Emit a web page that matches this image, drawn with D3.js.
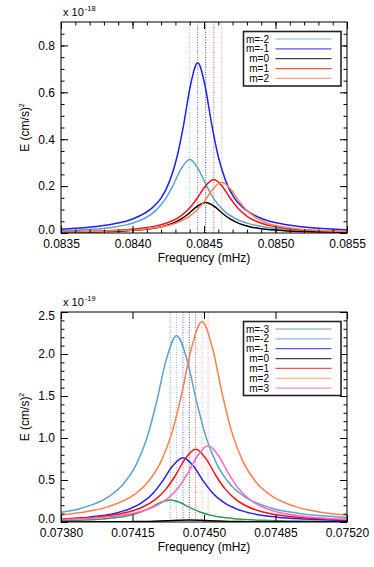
<!DOCTYPE html>
<html>
<head>
<meta charset="utf-8">
<script src="https://cdn.jsdelivr.net/npm/d3@7"></script>
<style>
  body { margin: 0; background: #fff; }
  svg { display: block; }
  text { font-family: "Liberation Sans", Arial, Helvetica, sans-serif; fill: #000; }
</style>
</head>
<body>
<svg id="chart" width="374" height="567"></svg>
<script>
// ---- data ----
const modeColor = {
  "m=-3": "#33994d",
  "m=-2": "#5ba3cf",
  "m=-1": "#1f1fff",
  "m=0": "#000000",
  "m=1": "#ff1010",
  "m=2": "#ff7f4f",
  "m=3": "#ff66c4",
};

// upper panel (x 1e-18)
const topModes = ["m=-2", "m=-1", "m=0", "m=1", "m=2"];
const topCenters = [0.0844, 0.084456, 0.084512, 0.084568, 0.084624];
const topXTicks = [0.0835, 0.084, 0.0845, 0.085, 0.0855];
const topYTicks = [0, 0.2, 0.4, 0.6, 0.8];

const topM2 = [[0.083144,0.0048],[0.083458,0.0085],[0.083693,0.0148],[0.08385,0.0237],[0.084007,0.0433],[0.084086,0.0628],[0.084164,0.0966],[0.084227,0.1421],[0.084282,0.201],[0.084337,0.2707],[0.0844,0.314],[0.084463,0.2707],[0.084518,0.201],[0.084573,0.1421],[0.084636,0.0966],[0.084714,0.0628],[0.084793,0.0433],[0.08495,0.0237],[0.085107,0.0148],[0.085342,0.0085],[0.085656,0.0048]];
const topM1 = [[0.083156,0.01],[0.083416,0.014],[0.083676,0.023],[0.083871,0.039],[0.084001,0.06],[0.084131,0.104],[0.084196,0.1452],[0.084261,0.2234],[0.084313,0.3285],[0.0843585,0.4646],[0.084404,0.6259],[0.084456,0.726],[0.084508,0.6259],[0.0845535,0.4646],[0.084599,0.3285],[0.084651,0.2234],[0.084716,0.1452],[0.084781,0.104],[0.084911,0.06],[0.085041,0.039],[0.085236,0.023],[0.085496,0.014],[0.085756,0.01]];
const top0 = [[0.083256,0.002],[0.08357,0.0035],[0.083805,0.0061],[0.083962,0.0098],[0.084119,0.0179],[0.084198,0.026],[0.084276,0.04],[0.084339,0.0588],[0.084394,0.0832],[0.084449,0.1121],[0.084512,0.13],[0.084575,0.1121],[0.08463,0.0832],[0.084685,0.0588],[0.084748,0.04],[0.084826,0.026],[0.084905,0.0179],[0.085062,0.0098],[0.085219,0.0061],[0.085454,0.0035],[0.085768,0.002]];
const topP1 = [[0.083312,0.0035],[0.083626,0.0062],[0.083861,0.0107],[0.084018,0.0172],[0.084175,0.0314],[0.084254,0.0456],[0.084332,0.0702],[0.084395,0.1032],[0.08445,0.1459],[0.084505,0.1966],[0.084568,0.228],[0.084631,0.1966],[0.084686,0.1459],[0.084741,0.1032],[0.084804,0.0702],[0.084882,0.0456],[0.084961,0.0314],[0.085118,0.0172],[0.085275,0.0107],[0.08551,0.0062],[0.085824,0.0035]];
const topP2 = [[0.083368,0.0033],[0.083682,0.0058],[0.083917,0.0102],[0.084074,0.0163],[0.084231,0.0298],[0.08431,0.0432],[0.084388,0.0665],[0.084451,0.0977],[0.084506,0.1382],[0.084561,0.1862],[0.084624,0.216],[0.084687,0.1862],[0.084742,0.1382],[0.084797,0.0977],[0.08486,0.0665],[0.084938,0.0432],[0.085017,0.0298],[0.085174,0.0163],[0.085331,0.0102],[0.085566,0.0058],[0.08588,0.0033]];

// lower panel (x 1e-19)
const botModes = ["m=-3", "m=-2", "m=-1", "m=0", "m=1", "m=2", "m=3"];
const botCenters = [0.074335, 0.074366, 0.074397, 0.074428, 0.074459, 0.07449, 0.07452];
const botXTicks = [0.0738, 0.07415, 0.0745, 0.07485, 0.0752];
const botYTicks = [0, 0.5, 1, 1.5, 2, 2.5];

const botM3 = [[0.073279,0.004],[0.073543,0.0071],[0.073741,0.0123],[0.073873,0.0198],[0.074005,0.0361],[0.074071,0.0524],[0.074137,0.0806],[0.07419,0.1186],[0.074236,0.1677],[0.074282,0.2259],[0.074335,0.262],[0.074388,0.2259],[0.074434,0.1677],[0.07448,0.1186],[0.074533,0.0806],[0.074599,0.0524],[0.074665,0.0361],[0.074797,0.0198],[0.074929,0.0123],[0.075127,0.0071],[0.075391,0.004]];
const botM2 = [[0.07331,0.0342],[0.073574,0.0599],[0.073772,0.1045],[0.073904,0.1675],[0.074036,0.3059],[0.074102,0.4436],[0.074168,0.6825],[0.074221,1.0036],[0.074267,1.4195],[0.074313,1.9121],[0.074366,2.218],[0.074419,1.9121],[0.074465,1.4195],[0.074511,1.0036],[0.074564,0.6825],[0.07463,0.4436],[0.074696,0.3059],[0.074828,0.1675],[0.07496,0.1045],[0.075158,0.0599],[0.075422,0.0342]];
const botM1 = [[0.073341,0.0118],[0.073605,0.0207],[0.073803,0.0361],[0.073935,0.0578],[0.074067,0.1056],[0.074133,0.1532],[0.074199,0.2357],[0.074252,0.3466],[0.074298,0.4902],[0.074344,0.6604],[0.074397,0.766],[0.07445,0.6604],[0.074496,0.4902],[0.074542,0.3466],[0.074595,0.2357],[0.074661,0.1532],[0.074727,0.1056],[0.074859,0.0578],[0.074991,0.0361],[0.075189,0.0207],[0.075453,0.0118]];
const bot0 = [[0.073372,0.0004],[0.073636,0.0006],[0.073834,0.0011],[0.073966,0.0018],[0.074098,0.0033],[0.074164,0.0048],[0.07423,0.0074],[0.074283,0.0109],[0.074329,0.0154],[0.074375,0.0207],[0.074428,0.024],[0.074481,0.0207],[0.074527,0.0154],[0.074573,0.0109],[0.074626,0.0074],[0.074692,0.0048],[0.074758,0.0033],[0.07489,0.0018],[0.075022,0.0011],[0.07522,0.0006],[0.075484,0.0004]];
const botP1 = [[0.073403,0.0133],[0.073667,0.0234],[0.073865,0.0407],[0.073997,0.0653],[0.074129,0.1193],[0.074195,0.173],[0.074261,0.2662],[0.074314,0.3914],[0.07436,0.5536],[0.074406,0.7457],[0.074459,0.865],[0.074512,0.7457],[0.074558,0.5536],[0.074604,0.3914],[0.074657,0.2662],[0.074723,0.173],[0.074789,0.1193],[0.074921,0.0653],[0.075053,0.0407],[0.075251,0.0234],[0.075515,0.0133]];
const botP2 = [[0.073434,0.0367],[0.073698,0.0644],[0.073896,0.1123],[0.074028,0.1801],[0.07416,0.3289],[0.074226,0.477],[0.074292,0.7339],[0.074345,1.0792],[0.074391,1.5264],[0.074437,2.0561],[0.07449,2.385],[0.074543,2.0561],[0.074589,1.5264],[0.074635,1.0792],[0.074688,0.7339],[0.074754,0.477],[0.07482,0.3289],[0.074952,0.1801],[0.075084,0.1123],[0.075282,0.0644],[0.075546,0.0367]];
const botP3 = [[0.073464,0.014],[0.073728,0.0245],[0.073926,0.0427],[0.074058,0.0685],[0.07419,0.1252],[0.074256,0.1816],[0.074322,0.2794],[0.074375,0.4109],[0.074421,0.5811],[0.074467,0.7828],[0.07452,0.908],[0.074573,0.7828],[0.074619,0.5811],[0.074665,0.4109],[0.074718,0.2794],[0.074784,0.1816],[0.07485,0.1252],[0.074982,0.0685],[0.075114,0.0427],[0.075312,0.0245],[0.075576,0.014]];

// ---- drawing ----
const svg = d3.select("#chart");
const left = 61, right = 347;

const drawPanel = ({ id, top, bottom, modes, centers, series, xTicks, xFmt, xMinor, yTicks, yMax, yMinor, power, legendH }) => {
  const x = d3.scaleLinear().domain([xTicks[0], xTicks[xTicks.length - 1]]).range([left, right]);
  const y = d3.scaleLinear().domain([0, yMax]).range([bottom, top]);
  const g = svg.append("g");

  g.append("clipPath").attr("id", id).append("rect")
    .attr("x", left).attr("y", top).attr("width", right - left).attr("height", bottom - top);

  // dotted mode centres
  g.append("g").attr("clip-path", `url(#${id})`)
    .selectAll("line").data(centers).join("line")
    .attr("x1", (d) => x(d)).attr("x2", (d) => x(d))
    .attr("y1", top).attr("y2", bottom)
    .attr("stroke", (_, i) => modeColor[modes[i]])
    .attr("stroke-opacity", 0.7)
    .attr("stroke-width", 1)
    .attr("stroke-dasharray", "1,1.5");

  const line = d3.line().x((d) => x(d[0])).y((d) => y(d[1])).curve(d3.curveMonotoneX);
  g.append("g").attr("clip-path", `url(#${id})`)
    .selectAll("path").data(series).join("path")
    .attr("d", line)
    .attr("fill", "none")
    .attr("stroke", (_, i) => modeColor[modes[i]])
    .attr("stroke-width", 1.5);

  // axes, ticks inward
  const hideDomain = (a) => a.call((s) => s.select(".domain").remove());
  const axes = [
    [d3.axisBottom(x), `translate(0,${bottom})`, xTicks, xMinor, true],
    [d3.axisTop(x), `translate(0,${top})`, xTicks, xMinor, false],
    [d3.axisLeft(y), `translate(${left},0)`, yTicks, yMinor, true],
    [d3.axisRight(y), `translate(${right},0)`, yTicks, yMinor, false],
  ];
  axes.forEach(([axis, tr, major, minor, labels], k) => {
    const fmt = k < 2 ? xFmt : d3.format(".1f");
    if (minor.length) {
      g.append("g").attr("transform", tr)
        .call(axis.tickValues(minor).tickSize(-3.5).tickSizeOuter(0).tickFormat(""))
        .call(hideDomain);
    }
    const ag = g.append("g").attr("transform", tr)
      .call(axis.tickValues(major).tickSize(-7).tickSizeOuter(0)
        .tickPadding(k < 2 ? 6.8 : 6).tickFormat(labels ? fmt : ""))
      .call(hideDomain);
    ag.selectAll("text").attr("font-size", 12).attr("font-family", null);
    if (k === 2) {
      // end labels are pulled inside the axis span
      ag.selectAll("text")
        .attr("dy", (d) => (d === 0 ? "0.05em" : d === yMax ? "0.6em" : "0.32em"));
    }
  });
  g.selectAll(".tick line").attr("stroke", "#000");

  g.append("rect")
    .attr("x", left).attr("y", top).attr("width", right - left).attr("height", bottom - top)
    .attr("fill", "none").attr("stroke", "#000").attr("stroke-width", 1);

  // titles
  g.append("text").attr("x", (left + right) / 2).attr("y", bottom + 29)
    .attr("text-anchor", "middle").attr("font-size", 12).text("Frequency (mHz)");
  const yt = g.append("text")
    .attr("transform", `translate(28.5,${(top + bottom) / 2}) rotate(-90)`)
    .attr("text-anchor", "middle").attr("font-size", 12);
  yt.append("tspan").text("E (cm/s)");
  yt.append("tspan").attr("dy", -5).attr("font-size", 7).text("2");

  const pw = g.append("text").attr("x", 63).attr("y", top - 6.5).attr("font-size", 11);
  pw.append("tspan").text("x 10");
  pw.append("tspan").attr("dy", -5).attr("dx", 1).attr("font-size", 7.5).text(power);

  // legend
  const lx = 243.5, ly = top + 9.5, rowH = 9.85;
  g.append("rect").attr("x", lx).attr("y", ly).attr("width", 97.5).attr("height", legendH)
    .attr("fill", "#fff").attr("stroke", "#222").attr("stroke-width", 1.6);
  const lg = g.append("g").selectAll("g").data(modes).join("g")
    .attr("transform", (_, i) => `translate(0,${ly + 7.5 + i * rowH})`);
  lg.append("text").attr("x", 269).attr("dy", "0.36em")
    .attr("text-anchor", "end").attr("font-size", 10).text((d) => d);
  lg.append("line").attr("x1", 275.5).attr("x2", 331.5)
    .attr("stroke", (d) => modeColor[d]).attr("stroke-opacity", 0.75).attr("stroke-width", 1.2);
};

drawPanel({
  id: "clipTop", top: 22, bottom: 233,
  modes: topModes, centers: topCenters,
  series: [topM2, topM1, top0, topP1, topP2],
  xTicks: topXTicks, xFmt: d3.format(".4f"), xMinor: d3.range(0.0835, 0.08555, 0.0001),
  yTicks: topYTicks, yMax: 0.9, yMinor: d3.range(0, 0.9, 0.05),
  power: "-18", legendH: 54.5,
});

drawPanel({
  id: "clipBot", top: 312, bottom: 522,
  modes: botModes, centers: botCenters,
  series: [botM3, botM2, botM1, bot0, botP1, botP2, botP3],
  xTicks: botXTicks, xFmt: d3.format(".5f"), xMinor: [],
  yTicks: botYTicks, yMax: 2.5, yMinor: d3.range(0, 2.55, 0.1),
  power: "-19", legendH: 74,
});
</script>
</body>
</html>
